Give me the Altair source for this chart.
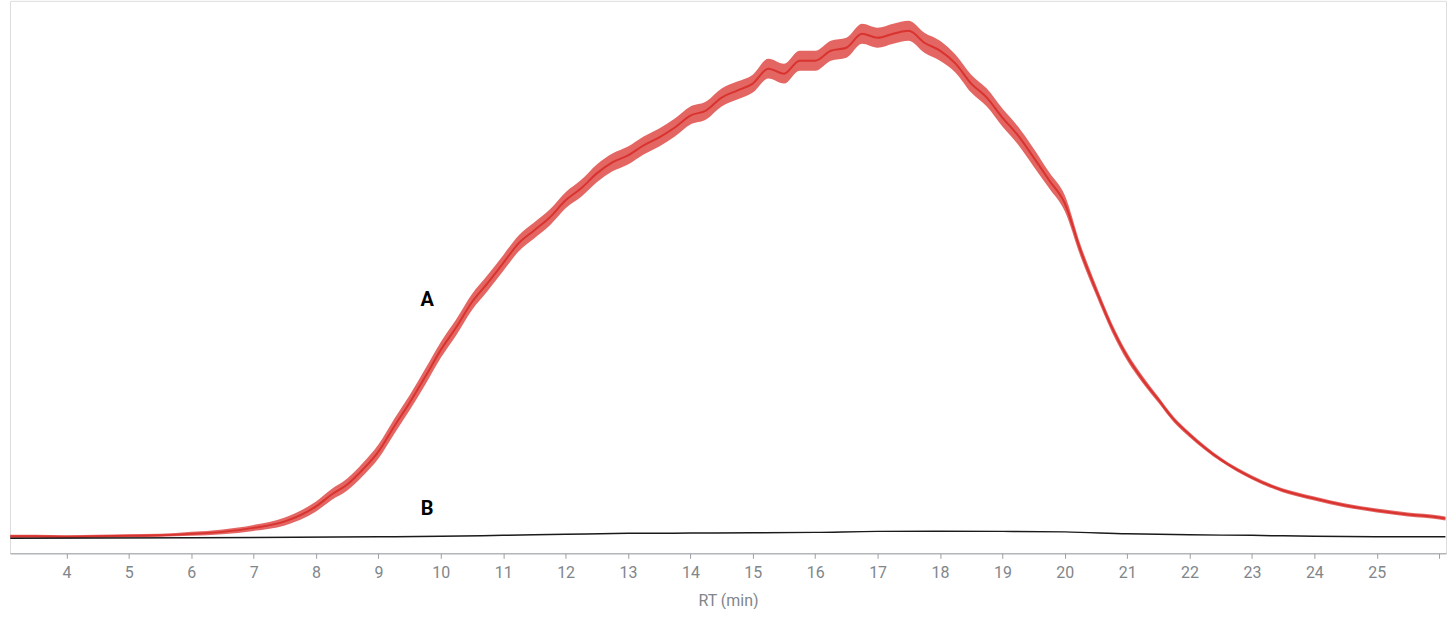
import altair as alt
import pandas as pd

# Retention time grid (min) for trace A
rt_a = [3.1, 3.5, 4.0, 4.5, 5.0, 5.5, 6.0, 6.5, 7.0, 7.5, 8.0, 8.25, 8.5, 8.75,
        9.0, 9.25, 9.5, 9.75, 10.0, 10.25, 10.5, 10.75, 11.0, 11.25, 11.5, 11.75,
        12.0, 12.25, 12.5, 12.75, 13.0, 13.25, 13.5, 13.75, 14.0, 14.25, 14.5, 14.75,
        15.0, 15.25, 15.5, 15.75, 16.0, 16.25, 16.5, 16.75, 17.0, 17.25, 17.5, 17.75,
        18.0, 18.25, 18.5, 18.75, 19.0, 19.25, 19.5, 19.75, 20.0, 20.25, 20.5, 20.75,
        21.0, 21.25, 21.5, 21.75, 22.0, 22.5, 23.0, 23.5, 24.0, 24.5, 25.0, 25.5,
        26.0, 26.1]
# Trace A signal (arbitrary units), centre of the noisy trace
signal_a = [0.2, 0.2, 0.1, 0.2, 0.3, 0.4, 0.7, 1.1, 1.9, 3.2, 6.2, 8.6, 10.6, 13.6,
            17.2, 22.2, 27.0, 32.2, 37.6, 42.2, 47.2, 51.0, 55.0, 59.0, 61.6, 64.2,
            67.6, 70.0, 73.0, 75.2, 76.6, 78.6, 80.2, 82.2, 84.6, 85.6, 88.2, 89.6,
            91.0, 94.0, 93.0, 95.6, 95.6, 97.6, 98.2, 101.0, 100.2, 101.0, 101.6, 99.2,
            97.6, 95.0, 91.0, 88.2, 84.2, 80.6, 76.2, 71.6, 67.0, 57.6, 49.6, 42.2,
            36.2, 31.6, 27.6, 23.6, 20.6, 15.6, 12.0, 9.4, 7.8, 6.4, 5.4, 4.6,
            4.0, 3.8]
# Half-width of the noise band of trace A (same units)
noise_a = [0.3, 0.3, 0.3, 0.3, 0.3, 0.3, 0.4, 0.5, 0.6, 0.8, 1.0, 1.1, 1.2, 1.3,
           1.4, 1.5, 1.5, 1.6, 1.6, 1.6, 1.6, 1.6, 1.6, 1.6, 1.6, 1.6,
           1.6, 1.7, 1.8, 1.8, 1.8, 1.8, 1.8, 1.8, 1.8, 1.8, 1.8, 1.8,
           1.8, 2.0, 2.0, 2.0, 2.0, 2.0, 2.0, 2.0, 2.0, 2.0, 2.0, 2.0,
           2.0, 1.8, 1.8, 1.8, 1.8, 1.8, 1.8, 1.6, 1.6, 1.2, 1.0, 0.9,
           0.8, 0.7, 0.6, 0.55, 0.5, 0.4, 0.4, 0.4, 0.4, 0.4, 0.4, 0.4,
           0.4, 0.4]

# Trace B
rt_b = [3.1, 6.0, 9.0, 10.0, 11.0, 12.0, 13.0, 14.0, 15.0, 16.0, 17.0, 18.0,
        19.0, 20.0, 21.0, 22.0, 23.0, 24.0, 25.0, 26.1]
signal_b = [-0.2, -0.1, 0.1, 0.2, 0.4, 0.6, 0.8, 0.85, 0.9, 1.0, 1.2, 1.24,
            1.2, 1.1, 0.7, 0.5, 0.4, 0.2, 0.1, 0.1]

label_rt = [9.78, 9.78]
label_val = [47.6, 5.6]
label_txt = ["A", "B"]

x_ticks = list(range(4, 27))

RED = "#d9332f"
GRAY = "#80868b"

df_a = pd.DataFrame({
    "rt": rt_a,
    "signal": signal_a,
    "lo": [s - n for s, n in zip(signal_a, noise_a)],
    "hi": [s + n for s, n in zip(signal_a, noise_a)],
})
df_b = pd.DataFrame({"rt": rt_b, "signal": signal_b})
df_lbl = pd.DataFrame({"rt": label_rt, "signal": label_val, "label": label_txt})

xscale = alt.Scale(domain=[3.095, 26.11], nice=False, zero=False)
yscale = alt.Scale(domain=[-3.2, 107.6], nice=False, zero=False)

xaxis = alt.Axis(
    values=x_ticks,
    format="d",
    labelExpr="datum.value == 26 ? '' : datum.label",
    grid=False,
    domainColor="#9aa0a6",
    tickColor="#9aa0a6",
    tickSize=5,
    labelColor=GRAY,
    labelFontSize=16,
    labelFont="Roboto",
    labelPadding=6,
    title="RT (min)",
    titleColor=GRAY,
    titleFontSize=16,
    titleFont="Roboto",
    titleFontWeight="normal",
    titlePadding=12,
)

X = alt.X("rt:Q", scale=xscale, axis=xaxis)

band = alt.Chart(df_a).mark_area(color=RED, opacity=0.75, interpolate="monotone").encode(
    x=X,
    y=alt.Y("lo:Q", scale=yscale, axis=None),
    y2="hi:Q",
)

line_a = alt.Chart(df_a).mark_line(color=RED, strokeWidth=2, interpolate="monotone").encode(
    x=X,
    y=alt.Y("signal:Q", scale=yscale, axis=None),
)

line_b = alt.Chart(df_b).mark_line(color="#1a1a1a", strokeWidth=1.5, interpolate="monotone").encode(
    x=X,
    y=alt.Y("signal:Q", scale=yscale, axis=None),
)

labels = alt.Chart(df_lbl).mark_text(
    font="Roboto", fontSize=20, fontWeight="bold", color="#000000",
    align="center", baseline="middle"
).encode(
    x=X,
    y=alt.Y("signal:Q", scale=yscale, axis=None),
    text="label:N",
)

chart = alt.layer(band, line_a, line_b, labels).properties(
    width=1440,
    height=554,
    padding={"left": 6, "top": 0, "right": 5, "bottom": 0},
).configure_view(stroke=None).configure(background="white")

chart.save("out.html", embed_options={"renderer": "svg", "actions": False})
